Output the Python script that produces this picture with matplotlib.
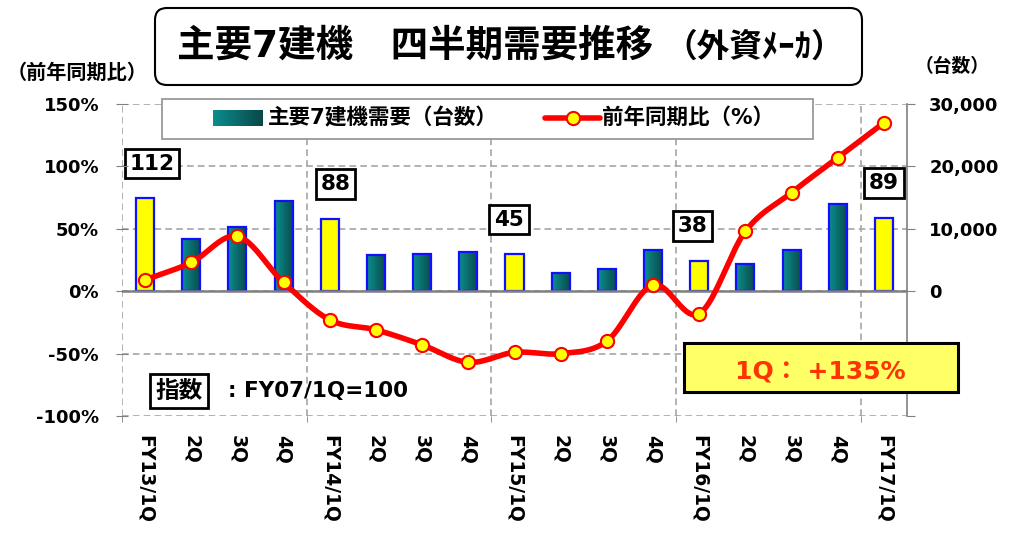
import numpy as np
import matplotlib
matplotlib.use('Agg')
import matplotlib.pyplot as plt
from matplotlib.patches import FancyBboxPatch, Rectangle
from matplotlib.lines import Line2D
from matplotlib.colors import LinearSegmentedColormap
from matplotlib.transforms import IdentityTransform

plt.rcParams['font.family'] = ['DejaVu Sans', 'Noto Sans CJK JP']
plt.rcParams['font.weight'] = 'bold'

# ---------------- data ----------------
categories = ['FY13/1Q', '2Q', '3Q', '4Q', 'FY14/1Q', '2Q', '3Q', '4Q',
              'FY15/1Q', '2Q', '3Q', '4Q', 'FY16/1Q', '2Q', '3Q', '4Q', 'FY17/1Q']
demand = [14900, 8300, 10300, 14450, 11600, 5750, 5900, 6250,
          5900, 2900, 3550, 6650, 4850, 4300, 6550, 14000, 11800]
yoy = [9, 23, 44, 7, -23, -31, -43, -57,
       -49, -50, -40, 5, -18, 48, 79, 107, 135]
index_pos = [0, 4, 8, 12, 16]
index_vals = [112, 88, 45, 38, 89]
pct_ticks = [-100, -50, 0, 50, 100, 150]
cnt_ticks = [-20000, -10000, 0, 10000, 20000, 30000]

title_main = '主要7建機　四半期需要推移'
title_sub = '（外資ﾒｰｶ）'
legend_bar = '主要7建機需要（台数）'
legend_line = '前年同期比（%）'
left_label = '（前年同期比）'
right_label = '（台数）'
note_box = '指数'
note_text = ': FY07/1Q=100'
highlight = '1Q： +135%'

W, H = 1012, 542
fig = plt.figure(figsize=(W / 100, H / 100), dpi=100)
fig.patch.set_facecolor('white')


def fx(px):
    return px / W


def fy(py):
    return 1 - py / H


GRID = '#a6a6a6'
AXC = '#808080'

ax = fig.add_axes([fx(122), fy(416), 785 / W, 312 / H])
axp = ax.twinx()
ax.yaxis.tick_right()
axp.yaxis.tick_left()

n = len(categories)
x = np.arange(n)
is_q1 = [c.startswith('FY') for c in categories]

# bars
bw = 0.39
face = ['#ffff00' if q else '#0a7a7a' for q in is_q1]
bars = ax.bar(x, demand, width=bw, color=face, edgecolor='none', zorder=3)
grad = np.linspace(0, 1, 64).reshape(1, -1)
cmap = LinearSegmentedColormap.from_list('teal', ['#0b8e8e', '#0a4848'])
for b, q in zip(bars, is_q1):
    if not q:
        im = ax.imshow(grad, cmap=cmap, aspect='auto', zorder=3.5,
                       extent=[b.get_x(), b.get_x() + b.get_width(), 0, b.get_height()])
        im.set_clip_path(b)
ax.bar(x, demand, width=bw, fill=False, edgecolor='#1010ff', linewidth=1.6, zorder=4)

ax.set_xlim(-0.5, n - 0.5)
ax.set_ylim(cnt_ticks[0], cnt_ticks[-1])
ax.set_yticks(cnt_ticks)
ax.set_yticklabels([f'{v:,}' if v >= 0 else '' for v in cnt_ticks])
for t, v in zip(ax.yaxis.get_major_ticks(), cnt_ticks):
    if v < 0:
        t.tick2line.set_visible(False)
ax.tick_params(axis='y', right=True, left=False, direction='out', length=6,
               color=AXC, pad=10, labelsize=13)
for lbl in ax.get_yticklabels():
    lbl.set_horizontalalignment('left')

ax.set_xticks(x)
ax.set_xticklabels(categories, rotation=270, fontsize=13.5, va='top', ha='center')
ax.tick_params(axis='x', length=0, pad=14)
ax.set_xticks(np.arange(-0.5, n, 4), minor=True)
ax.tick_params(axis='x', which='minor', length=4, color=AXC, direction='out')

ax.set_axisbelow(True)
ax.grid(axis='y', which='major', color=GRID, linestyle=(0, (4, 2.5)), linewidth=1.2)
ax.grid(axis='x', which='minor', color=GRID, linestyle=(0, (4, 2.5)), linewidth=1.2)
ax.axhline(0, color=AXC, linewidth=1.8, zorder=5)
for s in ['left', 'top', 'bottom']:
    ax.spines[s].set_visible(False)
ax.spines['right'].set_color(AXC)
ax.spines['right'].set_linewidth(1.2)

# index labels
xoffs = [5, 4, -4, -5, 0]
for p, v, dx in zip(index_pos, index_vals, xoffs):
    ax.annotate(str(v), xy=(p, demand[p]), xytext=(dx, 25), textcoords='offset points',
                ha='center', va='center', fontsize=15.5, fontweight='bold', zorder=6,
                bbox=dict(boxstyle='square,pad=0.22', fc='white', ec='black', lw=2))


# smoothed line (Catmull-Rom through the data points)
def catmull(xs, ys, k=24):
    pts = np.column_stack([xs, ys]).astype(float)
    P = np.vstack([2 * pts[0] - pts[1], pts, 2 * pts[-1] - pts[-2]])
    out = []
    t = np.linspace(0, 1, k, endpoint=False)[:, None]
    for i in range(1, len(P) - 2):
        p0, p1, p2, p3 = P[i - 1], P[i], P[i + 1], P[i + 2]
        seg = 0.5 * (2 * p1 + (-p0 + p2) * t + (2 * p0 - 5 * p1 + 4 * p2 - p3) * t ** 2
                     + (-p0 + 3 * p1 - 3 * p2 + p3) * t ** 3)
        out.append(seg)
    out.append(pts[-1:])
    return np.vstack(out)


curve = catmull(x, yoy)
axp.plot(curve[:, 0], curve[:, 1], color='#ff0000', linewidth=4, solid_capstyle='round', zorder=5)
axp.plot(x, yoy, linestyle='none', marker='o', markersize=9.5, markerfacecolor='#ffff00',
         markeredgecolor='#ff0000', markeredgewidth=1.5, zorder=6)
axp.set_ylim(pct_ticks[0], pct_ticks[-1])
axp.set_yticks(pct_ticks)
axp.set_yticklabels([f'{v}%' for v in pct_ticks])
axp.tick_params(axis='y', left=True, right=False, direction='inout', length=9,
                color=AXC, pad=12, labelsize=13)
for s in axp.spines.values():
    s.set_visible(False)

# ---------------- figure level decorations ----------------
# title box
tb = FancyBboxPatch((155, H - 85), 707, 77, boxstyle='round,pad=0,rounding_size=12',
                    transform=IdentityTransform(), fc='white', ec='black', lw=1.5)
fig.add_artist(tb)
fig.text(fx(177), fy(47), title_main, fontsize=27, fontweight='bold', va='center', ha='left')
fig.text(fx(664), fy(47), title_sub, fontsize=23.5, fontweight='bold', va='center', ha='left')

# axis captions
fig.text(fx(77), fy(73), left_label, fontsize=14.5, fontweight='bold', ha='center', va='center')
fig.text(fx(952), fy(66), right_label, fontsize=13.5, fontweight='bold', ha='center', va='center')

# legend
fig.add_artist(Rectangle((fx(162), fy(139)), (813 - 162) / W, 40 / H, transform=fig.transFigure,
                         fc='white', ec='#909090', lw=1.2))
lax = fig.add_axes([fx(213), fy(126), 50 / W, 16 / H], zorder=5)
lax.imshow(grad, cmap=cmap, aspect='auto')
lax.set_axis_off()
fig.text(fx(268), fy(118), legend_bar, fontsize=15.5, fontweight='bold', va='center', ha='left')
fig.add_artist(Line2D([fx(545), fx(600)], [fy(118), fy(118)], transform=fig.transFigure,
                      color='#ff0000', lw=4, solid_capstyle='round'))
fig.add_artist(Line2D([fx(573)], [fy(118)], transform=fig.transFigure, marker='o',
                      markersize=9.5, markerfacecolor='#ffff00', markeredgecolor='#ff0000',
                      markeredgewidth=1.5))
fig.text(fx(602), fy(118), legend_line, fontsize=15.5, fontweight='bold', va='center', ha='left')

# note (指数)
fig.text(fx(179), fy(391), note_box, fontsize=17, fontweight='bold', ha='center', va='center',
         bbox=dict(boxstyle='square,pad=0.22', fc='white', ec='black', lw=2))
fig.text(fx(228), fy(391), note_text, fontsize=15.5, fontweight='bold', ha='left', va='center')

# highlight box
fig.add_artist(Rectangle((fx(684), fy(392)), (958 - 684) / W, 49 / H, transform=fig.transFigure,
                         fc='#ffff66', ec='black', lw=2.2))
fig.text(fx(820), fy(372), highlight, fontsize=18, fontweight='bold', color='#ff3300',
         ha='center', va='center')

fig.savefig('out.png', dpi=100)
